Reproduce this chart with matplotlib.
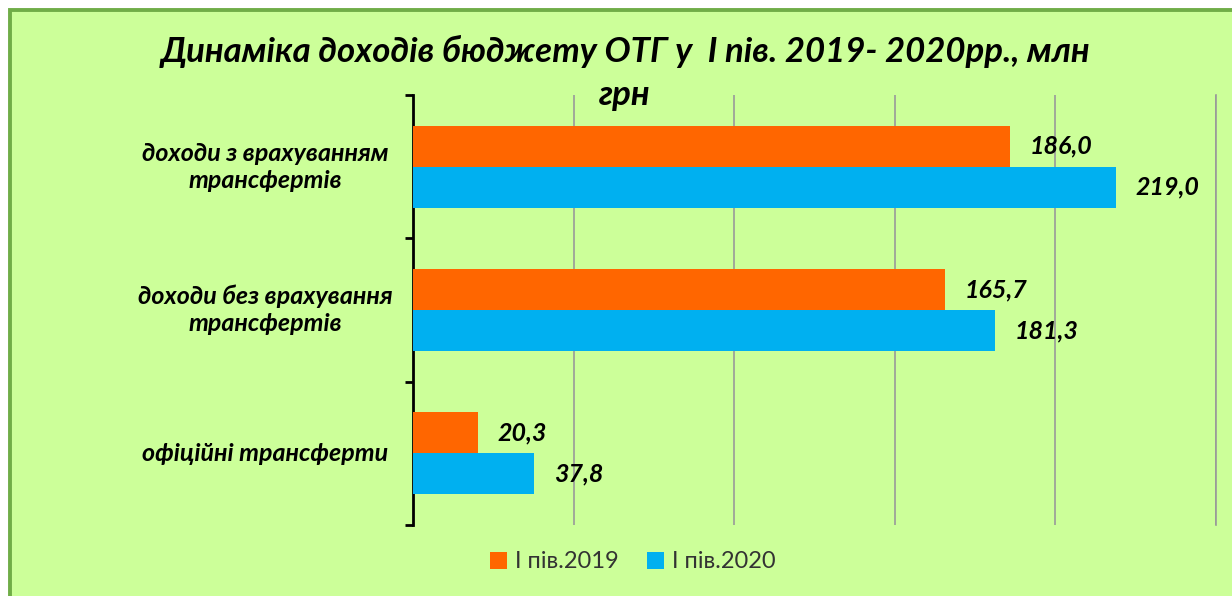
import matplotlib
matplotlib.use("Agg")
import matplotlib.pyplot as plt
from matplotlib.patches import Rectangle, Patch

categories = ["доходи з врахуванням\nтрансфертів",
              "доходи без врахування\nтрансфертів",
              "офіційні трансферти"]
vals_2019 = [186.0, 165.7, 20.3]
vals_2020 = [219.0, 181.3, 37.8]
series_names = ["І пів.2019", "І пів.2020"]
title = "Динаміка доходів бюджету ОТГ у  І пів. 2019- 2020рр., млн\nгрн"

W, H = 1232, 596
plt.rcParams['font.family'] = ['Lato', 'DejaVu Sans']
fig = plt.figure(figsize=(W / 100, H / 100), dpi=100, facecolor="white")

# green panel with border
fig.patches.append(Rectangle((9.5 / W, -20 / H), (W + 40) / W, (H - 9.5 + 20) / H,
                             transform=fig.transFigure, facecolor="#CCFF99",
                             edgecolor="#70AD47", linewidth=2.8, zorder=-10))

ax = fig.add_axes([413 / W, 1 - 525 / H, (1216 - 413) / W, (525 - 95) / H])
ax.set_facecolor("none")
ax.set_zorder(5)

orange = "#FF6600"
blue = "#00B0F0"
bh = 0.287
ypos = list(range(len(categories)))
y19 = [y - bh / 2 for y in ypos]
y20 = [y + bh / 2 for y in ypos]
ax.barh(y19, vals_2019, height=bh, color=orange, zorder=3)
ax.barh(y20, vals_2020, height=bh, color=blue, zorder=3)

ax.set_xlim(0, 250)
ax.set_ylim(2.5, -0.5)

for y, v in zip(y19, vals_2019):
    ax.annotate(f"{v:.1f}".replace(".", ","), (v, y), xytext=(14, 0),
                textcoords="offset points", ha="left", va="center",
                fontsize=18, fontweight="bold", fontstyle="italic", color="black")
for y, v in zip(y20, vals_2020):
    ax.annotate(f"{v:.1f}".replace(".", ","), (v, y), xytext=(14, 0),
                textcoords="offset points", ha="left", va="center",
                fontsize=18, fontweight="bold", fontstyle="italic", color="black")

# gridlines
ax.set_xticks([50, 100, 150, 200, 250])
ax.xaxis.grid(True, color="#999999", linewidth=1.2, zorder=0)
ax.tick_params(axis="x", length=0, labelbottom=False)
ax.axvline(250, color="#999999", linewidth=1.2, clip_on=False, zorder=0)

# category boundaries as ticks
ax.set_yticks([-0.5, 0.5, 1.5, 2.5])
ax.set_yticklabels([])
ax.tick_params(axis="y", direction="out", length=6, width=2, color="black")
for s in ["top", "right", "bottom"]:
    ax.spines[s].set_visible(False)
ax.spines["left"].set_linewidth(2)

for y, c in zip(ypos, categories):
    ax.text((265 - 413) / (1216 - 413), y, c, transform=ax.get_yaxis_transform(),
            ha="center", va="center", multialignment="center", fontsize=18,
            fontweight="bold", fontstyle="italic", linespacing=1.2)

fig.text(625 / W, 1 - 73 / H, title, ha="center", va="center", fontsize=25,
         fontweight="bold", fontstyle="italic", linespacing=1.4)

handles = [Patch(facecolor=orange), Patch(facecolor=blue)]
fig.legend(handles, series_names, loc="center", bbox_to_anchor=(633 / W, 1 - 562 / H),
           ncol=2, frameon=False, fontsize=17, handlelength=0.7, handleheight=0.7,
           handletextpad=0.35, columnspacing=1.2, labelcolor="#333333")

fig.savefig("out.png", dpi=100, facecolor="white")
